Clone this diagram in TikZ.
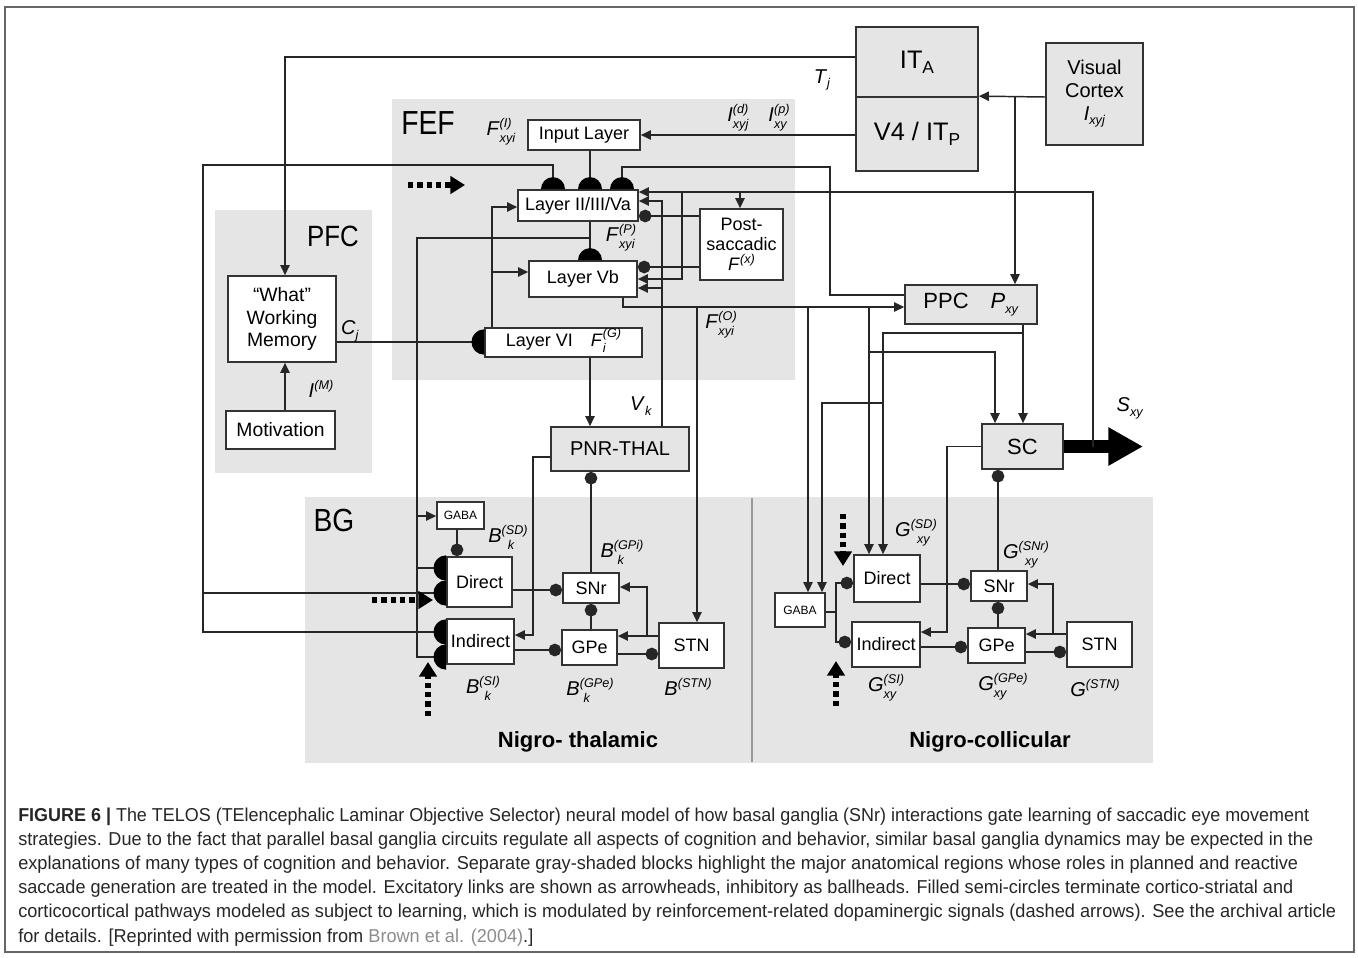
\documentclass[tikz,border=0pt]{standalone}
\usepackage{fontspec}
\setmainfont{Liberation Sans}
\usepackage{graphicx}
\usetikzlibrary{arrows.meta,backgrounds}

\newcommand{\lbsp}[3]{\textit{#1}\raisebox{-5pt}{\fontsize{9.5}{10}\selectfont\begin{tabular}[b]{@{}l@{}}\textit{#2}\\[1.5pt]\textit{#3}\end{tabular}}}
\newcommand{\lbs}[2]{\textit{#1}\raisebox{-3.5pt}{\fontsize{9.5}{10}\selectfont\textit{#2}}}
\newcommand{\lbu}[2]{\textit{#1}\raisebox{5.5pt}{\fontsize{9.5}{10}\selectfont\textit{#2}}}
\newcommand{\bx}[7][]{\node[box,#1,minimum width={(#5-#3)*0.75pt},minimum height={(#6-#4)*0.75pt}] (#2) at ({(#3+#5)/2},{(#4+#6)/2}) {#7};}
\newcommand{\semiup}[1]{\fill[black] (#1) ++(-9pt,0) arc[start angle=180,end angle=0,radius=9pt] -- cycle;}
\newcommand{\semileft}[1]{\fill[black] (#1) ++(0,9.5pt) arc[start angle=90,end angle=270,radius=9.5pt] -- cycle;}

\begin{document}
\begin{tikzpicture}[x=0.75pt,y=-0.75pt,
  >={Triangle[length=7.5pt,width=7pt]},
  ln/.style={line width=1.1pt, draw=black!85},
  arr/.style={ln, ->},
  ball/.style={ln, -{Circle[length=9.5pt]}},
  box/.style={draw=black!80, line width=1.3pt, fill=white, inner sep=0pt, font=\fontsize{13.5}{15}\selectfont, align=center},
  gbox/.style={box, fill=black!10},
  region/.style={fill=black!10, draw=none},
  dasharr/.style={line width=4pt, dash pattern=on 4pt off 3pt, -{Triangle[length=11pt,width=13pt]}},
  lab/.style={font=\fontsize{15}{16}\selectfont, inner sep=0pt},
  ttl/.style={inner sep=0pt},
  captxt/.style={anchor=base west, inner sep=0pt, text=black!85, font=\fontsize{14}{16}\selectfont}
]
\useasboundingbox (0,0) rectangle (1358,957);
\draw[black!60, line width=0.8pt] (5,7) rectangle (1354,952);

% ---------- nodes ----------
\bx[gbox,font=\fontsize{19}{20}\selectfont]{itA}{856}{27}{978}{97}{IT\raisebox{-4pt}{\fontsize{13}{14}\selectfont A}}
\bx[gbox,font=\fontsize{19}{20}\selectfont]{v4}{856}{97}{978}{171}{V4 / IT\raisebox{-4pt}{\fontsize{13}{14}\selectfont P}}
\bx[gbox,font=\fontsize{15}{17}\selectfont]{vc}{1046}{43}{1143}{145}{Visual\\Cortex\\\lbs{I}{xyj}}
\bx{inp}{528}{120}{640}{150}{Input Layer}
\bx{l23}{518}{190}{638}{221}{Layer II/III/Va}
\bx{l5b}{529}{261}{637}{297}{Layer Vb}
\bx{l6}{485}{328}{642}{357}{Layer VI\quad\lbsp{F}{(G)}{i}}
\bx{post}{700}{209}{783}{280}{Post-\\saccadic\\\lbu{F}{(x)}}
\bx[gbox,font=\fontsize{16.5}{18}\selectfont]{ppc}{905}{285}{1037}{324}{PPC\quad\lbs{P}{xy}}
\bx[font=\fontsize{14.5}{17}\selectfont]{wm}{228}{276}{336}{362}{“What”\\Working\\Memory}
\bx[font=\fontsize{14.5}{17}\selectfont]{mot}{226}{411}{335}{449}{Motivation}
\bx[gbox,font=\fontsize{15}{17}\selectfont]{pnr}{551}{427}{689}{471}{PNR-THAL}
\bx[gbox,font=\fontsize{16.5}{18}\selectfont]{sc}{982}{424}{1063}{469}{SC}
\bx[font=\fontsize{9}{10}\selectfont]{gabaL}{437}{502}{484}{529}{GABA}
\bx{dirL}{447}{557}{512}{607}{Direct}
\bx{indL}{447}{619}{514}{664}{Indirect}
\bx{snrL}{563}{573}{619}{603}{SNr}
\bx{gpeL}{562}{630}{617}{665}{GPe}
\bx{stnL}{659}{623}{724}{668}{STN}
\bx[font=\fontsize{9}{10}\selectfont]{gabaR}{775}{593}{825}{627}{GABA}
\bx{dirR}{854}{555}{920}{602}{Direct}
\bx{indR}{852}{622}{920}{667}{Indirect}
\bx{snrR}{971}{571}{1027}{601}{SNr}
\bx{gpeR}{968}{628}{1025}{663}{GPe}
\bx{stnR}{1067}{622}{1132}{667}{STN}

% ---------- regions ----------
\begin{scope}[on background layer]
  \fill[region] (392,99) rectangle (795,380);
  \fill[region] (215,210) rectangle (372,473);
  \fill[region] (305,497) rectangle (1153,763);
  \draw[black!40, line width=0.9pt] (752,498) -- (752,762);
\end{scope}

% ---------- connectors ----------
\draw[arr] (itA.west |- 0,57) -| (wm.north -| 285,0);
\draw[arr] (vc.west |- 0,97) -- (v4.north east);
\draw[arr] (1015,97) -- (ppc.north -| 1015,0);
\draw[arr] (v4.west |- inp.east) -- (inp.east);
\draw[ln] (inp.south -| 590,0) -- (l23.north -| 590,0);
\draw[ln] (l23.north -| 553,0) |- (203,165) |- (indL.west |- 0,632);
\draw[ln] (203,593) -- (dirL.west |- 0,593);
\draw[ln] (l23.south -| 590,0) -- (l5b.north -| 590,0);
\draw[ln] (590,238) -| (417,657) -- (indL.west |- 0,657);
\draw[arr] (417,516) -- (gabaL.west |- 0,516);
\draw[ln] (417,568) -- (dirL.west |- 0,568);
\draw[ln] (wm.east |- 0,342) -- (l6.west |- 0,342);
\draw[arr] (mot.north -| 285,0) -- (wm.south -| 285,0);
\draw[arr] (l6.north -| 492,0) |- (l23.west |- 0,207);
\draw[arr] (492,272) -- (l5b.west |- 0,272);
\draw[arr] (l6.south -| 590,0) -- (pnr.north -| 590,0);
\draw[arr] (pnr.north -| 662,0) |- (l23.east |- 0,201);
\draw[arr] (662,288) -- (l5b.east |- 0,288);
\draw[line width=10pt, draw=black, -{Triangle[length=26pt,width=27pt]}] (sc.east) -- (1143,446.5) coordinate (sxy);
\draw[arr] (sc.east -| 1093,0) |- (l23.east |- 0,192);
\draw[arr] (740,192) -- (post.north -| 740,0);
\draw[arr] (682,192) |- (l5b.east |- 0,279);
\draw[ball] (post.west |- 0,216) -- (l23.east |- 0,216);
\draw[ball] (post.west |- 0,267) -- (l5b.east |- 0,267);
\draw[ln] (ppc.west |- 0,295) -| (830,167) -| (l23.north -| 622,0);
\draw[arr] (l5b.south -| 623,0) |- (ppc.west |- 0,307);
\draw[arr] (697,307) -- (stnL.north -| 697,0);
\draw[arr] (808,307) -- (gabaR.north -| 808,0);
\draw[arr] (869,307) -- (dirR.north -| 869,0);
\draw[arr] (869,352) -| (sc.north -| 995,0);
\draw[arr] (ppc.south -| 1023,0) -- (sc.north -| 1023,0);
\draw[arr] (1023,333) -| (dirR.north -| 883,0);
\draw[arr] (883,403) -| (gabaR.north -| 822,0);
\draw[arr] (sc.west) -| (947,632) -- (indR.east |- 0,632);
\draw[ball] (snrR.north -| 998,0) -- (sc.south -| 998,0);
% right BG
\draw[ball] (dirR.east |- 0,584) -- (snrR.west |- 0,584);
\draw[ball] (gpeR.north -| 998,0) -- (snrR.south -| 998,0);
\draw[ball] (indR.east |- 0,647) -- (gpeR.west |- 0,647);
\draw[ball] (gpeR.east |- 0,652) -- (stnR.west |- 0,652);
\draw[arr] (stnR.west |- 0,634) -- (gpeR.east |- 0,634);
\draw[arr] (1053,634) |- (snrR.east |- 0,584);
\draw[ball] (gabaR.east |- 0,612) -| (836,583) -- (dirR.west |- 0,583);
\draw[ball] (836,612) |- (indR.west |- 0,642);
% left BG
\draw[ball] (gabaL.south -| 457,0) -- (dirL.north -| 457,0);
\draw[ball] (dirL.east |- 0,590) -- (snrL.west |- 0,590);
\draw[ball] (snrL.north -| 591,0) -- (pnr.south -| 591,0);
\draw[ball] (gpeL.north -| 591,0) -- (snrL.south -| 591,0);
\draw[ball] (indL.east |- 0,650) -- (gpeL.west |- 0,650);
\draw[ball] (gpeL.east |- 0,654) -- (stnL.west |- 0,654);
\draw[arr] (stnL.west |- 0,636) -- (gpeL.east |- 0,636);
\draw[arr] (647,636) |- (snrL.east |- 0,587);
\draw[arr] (pnr.west |- 0,457) -| (533,635) -- (indL.east |- 0,635);

% ---------- learning semicircles ----------
\semiup{l23.north -| 553,0}
\semiup{l23.north -| 590,0}
\semiup{l23.north -| 622,0}
\semiup{l5b.north -| 590,0}
\semileft{l6.west |- 0,342}
\semileft{dirL.west |- 0,568}
\semileft{dirL.west |- 0,593}
\semileft{indL.west |- 0,632}
\semileft{indL.west |- 0,657}

% ---------- dopamine (dashed) ----------
\coordinate (da1) at (408,185); \coordinate (db1) at (465,185);
\draw[dasharr] (da1) -- (db1);
\coordinate (da2) at (372,600); \coordinate (db2) at (433,600);
\draw[dasharr] (da2) -- (db2);
\coordinate (da3) at (428,716); \coordinate (db3) at (428,662);
\draw[dasharr] (da3) -- (db3);
\coordinate (da4) at (843,514); \coordinate (db4) at (843,566);
\draw[dasharr] (da4) -- (db4);
\coordinate (da5) at (836,706); \coordinate (db5) at (836,661);
\draw[dasharr] (da5) -- (db5);

% ---------- labels ----------
\node[ttl, font=\fontsize{25}{28}\selectfont] (tFEF) at (428,123) {\scalebox{0.85}[1]{FEF}};
\node[ttl, font=\fontsize{22}{26}\selectfont] (tPFC) at (333,236) {\scalebox{0.88}[1]{PFC}};
\node[ttl, font=\fontsize{24}{26}\selectfont] (tBG) at (334,520) {\scalebox{0.88}[1]{BG}};
\node[ttl, font=\bfseries\fontsize{16.5}{18}\selectfont] (tNT) at (578,742) {Nigro- thalamic};
\node[ttl, font=\bfseries\fontsize{16.5}{18}\selectfont] (tNC) at (990,742) {Nigro-collicular};

\node[lab] (Tj) at (822,80) {\lbs{T}{j}};
\node[lab] (Id) at (738,118) {\lbsp{I}{(d)}{xyj}};
\node[lab] (Ip) at (779,118) {\lbsp{I}{(p)}{xy}};
\node[lab] (FI) at (501,132) {\lbsp{F}{(I)}{xyi}};
\node[lab] (FP) at (621,238) {\lbsp{F}{(P)}{xyi}};
\node[lab] (FO) at (721,325) {\lbsp{F}{(O)}{xyi}};
\node[lab] (Vk) at (641,406) {\lbs{V}{k}};
\node[lab] (Cj) at (350,331) {\lbs{C}{j}};
\node[lab] (IM) at (321,389) {\lbu{I}{(M)}};
\node[lab] (BSD) at (508,539) {\lbsp{B}{(SD)}{\hspace{0.5em}k}};
\node[lab] (BGPi) at (622,554) {\lbsp{B}{(GPi)}{\hspace{0.3em}k}};
\node[lab] (BSI) at (483,690) {\lbsp{B}{(SI)}{\hspace{0.4em}k}};
\node[lab] (BGPe) at (590,692) {\lbsp{B}{(GPe)}{\hspace{0.3em}k}};
\node[lab] (BSTN) at (688,687) {\lbu{B}{(STN)}};
\node[lab] (GSD) at (916,533) {\lbsp{G}{(SD)}{\hspace{0.5em}xy}};
\node[lab] (GSNr) at (1026,555) {\lbsp{G}{(SNr)}{\hspace{0.5em}xy}};
\node[lab] (GSI) at (886,688) {\lbsp{G}{(SI)}{xy}};
\node[lab] (GGPe) at (1003,687) {\lbsp{G}{(GPe)}{xy}};
\node[lab] (GSTN) at (1095,688) {\lbu{G}{(STN)}};
\node[lab] (Sxy) at (1130,408) {\lbs{S}{xy}};

% ---------- caption ----------
\node[captxt] (c1) at (18,821) {\resizebox{968.25pt}{\height}{\textbf{FIGURE 6 |} The TELOS (TElencephalic Laminar Objective Selector) neural model of how basal ganglia (SNr) interactions gate learning of saccadic eye movement}};
\node[captxt] (c2) at (18,845) {\resizebox{971.25pt}{\height}{strategies. Due to the fact that parallel basal ganglia circuits regulate all aspects of cognition and behavior, similar basal ganglia dynamics may be expected in the}};
\node[captxt] (c3) at (18,869) {\resizebox{960pt}{\height}{explanations of many types of cognition and behavior. Separate gray-shaded blocks highlight the major anatomical regions whose roles in planned and reactive}};
\node[captxt] (c4) at (18,893) {\resizebox{956.25pt}{\height}{saccade generation are treated in the model. Excitatory links are shown as arrowheads, inhibitory as ballheads. Filled semi-circles terminate cortico-striatal and}};
\node[captxt] (c5) at (18,917) {\resizebox{988.5pt}{\height}{corticocortical pathways modeled as subject to learning, which is modulated by reinforcement-related dopaminergic signals (dashed arrows). See the archival article}};
\node[captxt] (c6) at (18,942) {\resizebox{386.25pt}{\height}{for details. [Reprinted with permission from \textcolor{black!45}{Brown et al. (2004)}.]}};
\end{tikzpicture}
\end{document}
